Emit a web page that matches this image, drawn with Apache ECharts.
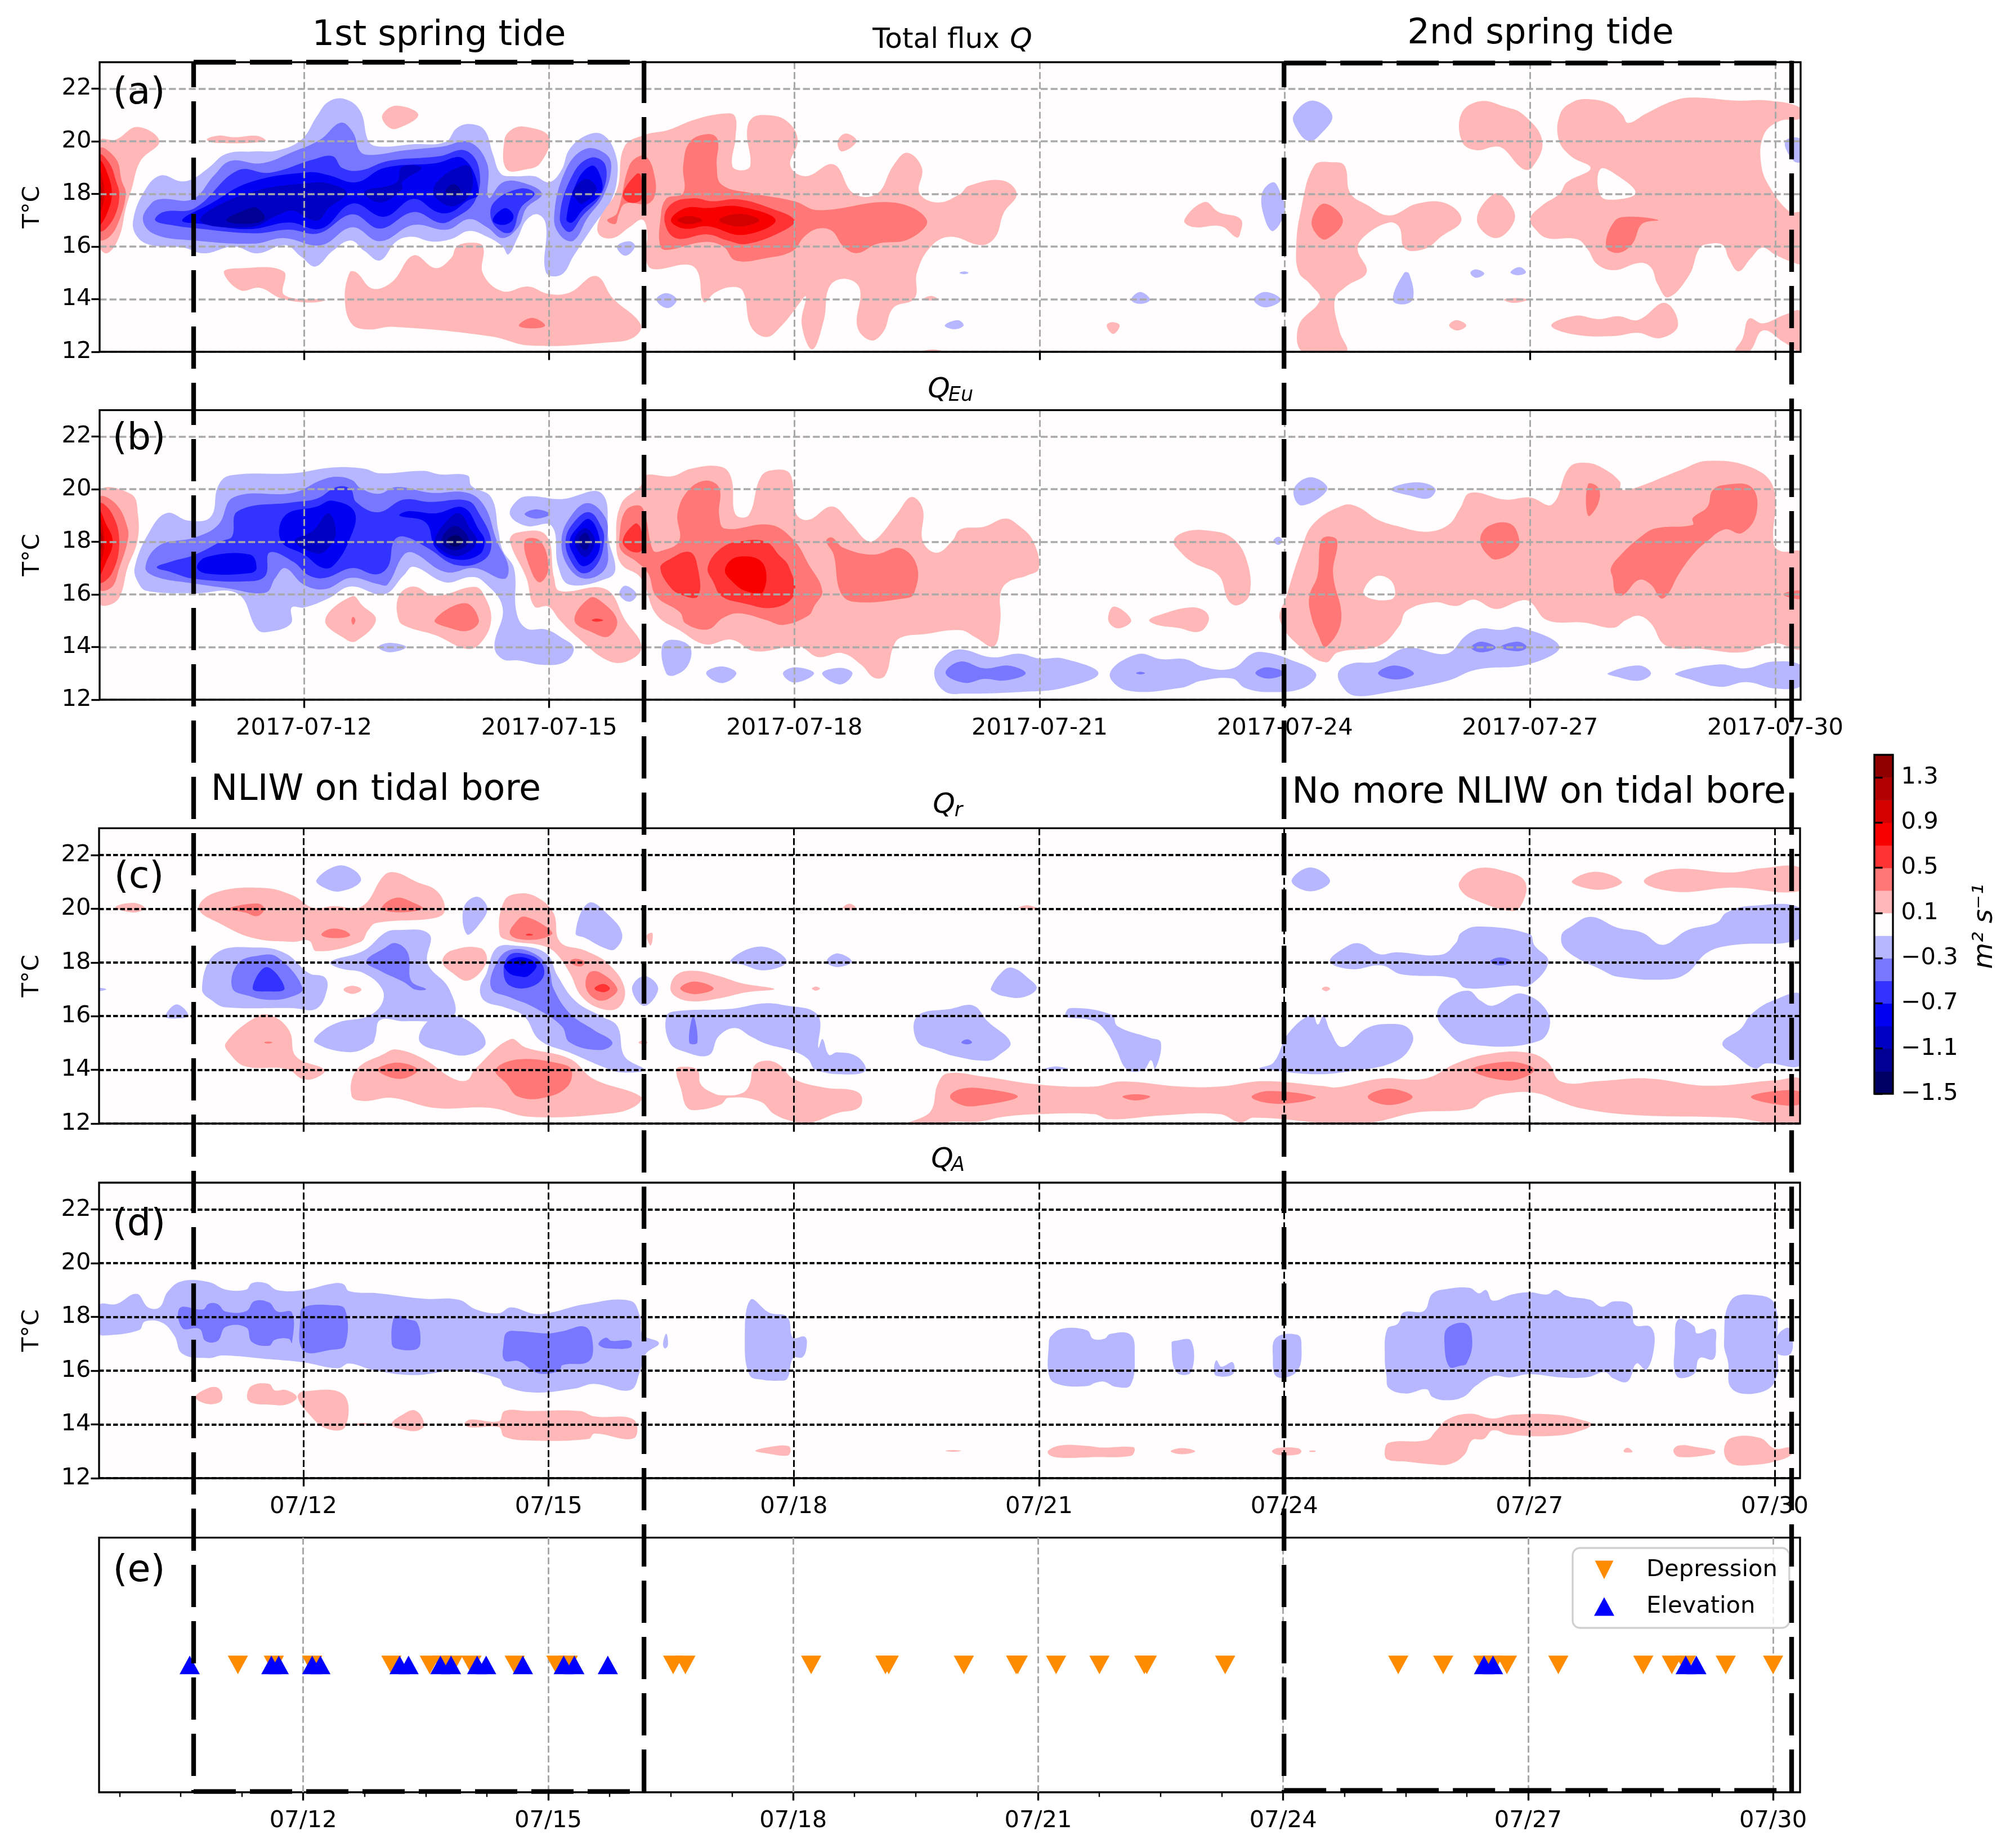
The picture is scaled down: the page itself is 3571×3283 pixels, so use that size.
<!DOCTYPE html>
<html><head><meta charset="utf-8"><style>html,body{margin:0;padding:0;background:#fff}#c{width:3571px;height:3283px}</style>
<script src="https://cdn.jsdelivr.net/npm/echarts@6/dist/echarts.min.js"></script></head>
<body><div id="c"></div><script>
// ---- axis values
const dateTicks=[12,15,18,21,24,27,30];
const minorTicks=[9.75,10.5,11.25,12.75,13.5,14.25,15.75,16.5,17.25,18.75,19.5,20.25,21.75,22.5,23.25,24.75,25.5,26.25,27.75,28.5,29.25];
const tempTicks=[12,14,16,18,20,22];
const cbarTicks=[-1.5,-1.1,-0.7,-0.3,0.1,0.5,0.9,1.3];
const cbarBins=[-1.4,-1.2,-1.0,-0.8,-0.6,-0.4,-0.2,0,0.2,0.4,0.6,0.8,1.0,1.2,1.4];
const binColors=['#000064','#000094','#0000c3','#0000f3','#3333ff','#7777ff','#b7b7ff','#fffdfd','#ffb7b7','#ff7777','#ff3333','#f70000','#d40000','#b20000','#900000'];
// ---- spring tide windows (day of July)
const springTides=[[10.65,16.16],[23.99,30.2]];
// ---- wave events (day of July)
const depressionTimes=[11.2,11.64,12.11,13.08,13.55,13.7,13.83,14.06,14.59,15.1,15.24,16.53,16.68,18.22,19.13,19.17,20.09,20.73,20.75,21.22,21.75,22.3,22.33,23.29,25.41,25.96,26.45,26.57,26.74,27.37,28.41,28.76,28.93,29.42,30.0];
const elevationTimes=[10.61,11.61,11.7,12.11,12.21,13.18,13.29,13.68,13.81,14.13,14.24,14.69,15.19,15.32,15.73,26.46,26.57,28.93,29.06];
// ---- contour regions [flux bin, [day,temp, day,temp, ...]]
const contoursA=[
[0.2,[9.5,20,9.7,20.06,9.96,20.54,10.23,20,10,19.25,9.89,18.17,9.82,17.45,9.74,16.37,9.6,15.75,9.5,16]],
[0.4,[9.5,19.7,9.7,19.33,9.77,18.5,9.82,18,9.74,17,9.62,16.37,9.5,16.28]],
[0.6,[9.5,19.47,9.62,19.16,9.7,18.5,9.74,18,9.7,17.27,9.58,16.68,9.5,16.6]],
[0.8,[9.5,19.25,9.58,18.9,9.65,18,9.58,17.18,9.5,16.86]],
[1.0,[9.5,18.9,9.56,18,9.5,17.27]],
[1.2,[9.5,18.44,9.53,18,9.5,17.63]],
[-0.2,[9.91,17,10.06,18.17,10.25,18.7,10.49,18.48,10.64,18.57,10.83,18.98,11.05,19.52,11.39,19.61,11.68,19.65,11.97,20.06,12.16,20.96,12.3,21.5,12.5,21.6,12.69,21.14,12.79,20,12.91,19.8,13.32,19.88,13.73,19.97,13.87,20.5,14.04,20.65,14.21,20.42,14.31,19.52,14.41,18.76,14.58,18.67,14.82,18.67,15,18.44,15.15,18.9,15.25,19.7,15.47,20.24,15.66,20.24,15.81,19.52,15.83,18.53,15.74,17.63,15.59,17,15.47,16.46,15.3,15.65,15.15,14.93,14.96,15.02,14.96,16.82,14.86,17.22,14.72,17,14.62,16.37,14.5,15.7,14.43,16,14.24,16.37,14.02,16.59,13.8,16.28,13.56,16.19,13.32,16.37,13.13,16.19,12.93,15.47,12.74,15.83,12.57,16.23,12.35,15.83,12.14,15.24,11.97,15.6,11.77,16.05,11.43,15.74,11.14,16,10.78,15.74,10.52,15.96,10.13,16.05,9.96,16.37]],
[-0.4,[10.03,17,10.13,17.63,10.25,17.8,10.64,17.8,10.9,18.7,11.1,19.25,11.48,19.16,11.87,19.6,12.2,20.06,12.45,20.7,12.6,20.33,12.69,19.6,12.84,19.48,13.22,19.65,13.7,19.8,14.02,19.97,14.24,19.16,14.26,17.85,14.43,18.43,14.67,18.43,14.91,18,14.72,17.45,14.62,16.73,14.43,16.32,14.24,16.73,14.02,17.04,13.75,16.64,13.34,16.82,12.93,16.2,12.59,16.73,12.21,16.05,11.75,16.32,11.39,16.11,10.66,16.23,10.18,16.46]],
[-0.4,[15.06,17.09,15.2,18.89,15.44,19.7,15.69,19.52,15.76,19,15.66,17.9,15.47,17.09,15.3,16.23,15.15,16.37]],
[-0.6,[10.18,17,10.28,17.31,10.66,17.45,11.19,18.89,11.58,18.8,12.11,19.3,12.35,19.43,12.47,18.98,12.69,18.89,13.03,19.25,13.66,19.43,13.97,19.65,14.14,18.98,14.09,17.72,13.8,17,13.66,16.9,13.34,17.31,12.93,16.68,12.59,17.22,12.18,16.5,11.82,16.64,11.39,16.5,10.71,16.68,10.37,16.82]],
[-0.6,[14.29,17.05,14.33,17.7,14.65,18.2,14.82,18,14.65,17.45,14.55,16.59,14.43,16.55]],
[-0.6,[15.13,17.09,15.3,18.8,15.52,19.38,15.69,19.07,15.64,17.99,15.4,17.13,15.25,16.55]],
[-0.8,[10.51,17,10.86,17.63,11.34,18.44,12.06,18.82,12.3,18.71,12.64,18.44,12.98,18.98,13.61,19.16,13.95,19.34,14.14,18.03,13.99,17.72,13.8,17.31,13.63,17.31,13.34,17.81,12.98,17.13,12.59,17.63,12.21,16.68,11.82,16.91,11.34,16.66,10.76,16.86]],
[-0.8,[14.31,17,14.45,17.45,14.55,17.27,14.55,17,14.43,16.82]],
[-0.8,[15.21,17.04,15.35,18.53,15.52,19.07,15.61,18.8,15.64,18.08,15.4,17.36,15.28,16.91]],
[-1.0,[10.73,17,11.29,18,12.11,18.43,12.35,18.35,12.52,18.03,12.3,17.45,12.18,17,12.06,17.05,11.87,17.36,11.7,17.22,11.34,16.73]],
[-1.0,[12.74,18.08,13.13,18.43,13.2,19.03,13.44,18.98,13.2,18.45,13.2,18.17,12.93,17.67]],
[-1.0,[13.58,18.08,13.68,18.62,13.95,19.07,14.04,18.98,14.04,18.03,13.83,17.54,13.66,17.72]],
[-1.0,[15.28,18.04,15.45,18.57,15.58,18.17,15.4,17.63,15.33,17.8]],
[-1.2,[11.05,17,11.34,17.45,11.43,17.45,11.52,17.05,11.31,16.86]],
[-1.2,[13.73,18.08,13.83,18.37,13.92,18.08,13.83,17.9]],
[0.2,[12.96,21,13.13,21.35,13.4,21,13.13,20.47,13.01,20.6]],
[0.2,[10.81,20.06,10.95,20.21,11.14,20.15,11.43,20.2,11.53,20,10.95,19.93]],
[0.2,[14.45,20,14.53,20.42,14.7,20.55,15,20.15,14.89,19.16,14.72,18.93,14.48,18.93]],
[0.2,[11.02,15.02,11.19,15.17,11.75,15.06,11.76,14.16,12.26,13.98,12.06,13.87,11.72,14.03,11.46,14.43,11.22,14.34]],
[0.2,[12.5,13.98,12.56,15.02,12.64,15.02,12.84,14.4,13.08,14.66,13.34,15.66,13.61,15.18,13.8,15.56,13.87,16,14.04,16.14,14.19,16,14.19,14.97,14.43,14.3,14.74,14.48,14.99,14.2,15.25,14.25,15.57,14.88,15.78,14.03,16.12,13.04,16.03,12.54,15.73,12.36,14.77,12.24,14.28,12.59,13.08,12.95,12.79,12.85,12.59,13.04]],
[0.4,[14.63,13,14.79,13.29,14.95,13,14.79,12.89]],
[0.2,[15.61,17,15.83,18.17,15.92,19.79,16.17,20.24,16.45,20.42,16.78,20.82,17.13,21.05,17.27,20.96,17.28,20.15,17.24,19.07,17.35,18.89,17.46,19.07,17.42,20.33,17.48,20.87,17.66,20.99,17.9,20.78,18.04,20.06,17.95,19.07,18.14,18.67,18.48,19.12,18.72,18.03,19.01,18,19.21,19.07,19.38,19.56,19.56,18.98,19.53,18.03,19.76,17.67,20.03,18,20.13,18.3,20.54,18.51,20.72,18,20.56,17.27,20.46,16.37,20.29,16.05,19.91,16.37,19.67,16,19.5,15.02,19.47,14.03,19.21,13.67,19.09,12.77,18.94,12.43,18.77,12.95,18.8,14.39,18.63,14.77,18.43,14.48,18.36,13.2,18.22,12.09,18.09,13.04,18.14,14.1,18.04,13.76,18,13.58,17.83,12.95,17.66,12.56,17.47,12.95,17.37,14.3,17.23,14.46,17.03,14.25,16.89,13.89,16.82,15.02,16.7,15.31,16.26,15.15,16.18,15.6,16.2,16.5,16.14,17.02,15.98,16.73,15.78,16.32,15.61,16.46]],
[0.4,[15.71,17,15.83,17.27,15.98,19.07,16.12,19.45,16.21,19.34,16.28,18.8,16.3,18.03,16.21,17.63,15.93,17.63,15.85,17.22,15.81,16.86]],
[0.4,[16.36,17,16.43,17.81,16.64,18.03,16.64,19.07,16.72,19.97,16.94,20.27,17.06,20.06,17.05,19.07,17.11,18.35,17.47,18.03,18,17.72,18.29,17.38,19.21,17.67,19.62,17,19.4,16.28,19.01,16.1,18.77,15.75,18.6,16,18.46,16.59,18.29,16.68,18.12,16.37,17.98,15.83,17.66,15.56,17.28,15.47,17.13,16,16.89,16.17,16.45,15.87,16.36,16]],
[0.6,[15.9,17.99,16.07,18.76,16.12,18.71,16.13,17.81,15.98,17.67]],
[0.6,[16.41,17,16.5,17.63,16.77,17.83,16.99,17.72,17.32,17.79,17.71,17.45,18,17,17.86,16.59,17.42,16.1,17.18,16.23,16.94,16.46,16.55,16.32]],
[0.8,[16.49,17,16.67,17.46,16.94,17.46,17.32,17.52,17.77,17,17.37,16.44,16.94,16.77,16.65,16.68]],
[1.0,[16.57,17,16.7,17.16,16.87,17,16.7,16.85]],
[1.0,[17.08,17,17.33,17.24,17.57,17,17.33,16.76]],
[-0.2,[15.83,16,15.98,16.2,16.05,16,15.93,15.65]],
[-0.2,[16.31,13.98,16.43,14.23,16.56,13.98,16.45,13.66]],
[-0.2,[20.02,15,20.08,15.05,20.13,15,20.08,14.95]],
[-0.2,[22.12,13.98,22.23,14.27,22.35,13.98,22.23,13.82]],
[-0.2,[19.84,13,20,13.2,20.07,13,19.96,12.86]],
[0.2,[19.57,13.98,19.67,14.12,19.76,13.98]],
[0.2,[19.55,12,19.69,12.09,19.84,12]],
[0.2,[21.82,13,21.89,13.13,21.98,13,21.9,12.68]],
[0.2,[22.77,17,23.02,17.69,23.19,17.31,23.46,17.04,23.45,16.46,23.41,16.34,23.22,16.77,22.88,16.74]],
[0.2,[18.53,20,18.63,20.29,18.76,20,18.58,19.61]],
[-0.2,[23.72,18,23.86,18.44,23.95,18,24,17.36,23.86,16.59,23.76,17]],
[-0.2,[24.11,21,24.34,21.54,24.58,20.98,24.43,20.24,24.29,20,24.14,20.5]],
[0.2,[24.14,16,24.19,17.27,24.36,19.07,24.58,19.2,24.73,19.07,24.8,18.03,25,17.59,25.28,17.18,25.62,17.63,25.98,17.63,26.16,17,25.91,16.37,25.72,15.92,25.47,15.92,25.4,16.73,25.28,16.91,25,16.46,24.89,15.92,25,15.02,24.75,14.48,24.61,13.98,24.67,12.77,24.75,12,24.22,12,24.17,13,24.43,13.98,24.31,14.57,24.17,15.02]],
[0.4,[24.33,17,24.48,17.63,24.71,17,24.51,16.28,24.39,16.46]],
[0.2,[26.16,21.05,26.39,21.52,26.68,21.32,26.92,21,27.15,20,27.02,18.98,26.9,18.97,26.68,19.7,26.58,19.8,26.34,19.66,26.17,19.97]],
[0.2,[26.35,17,26.56,18,26.73,17.72,26.81,17,26.58,16.32]],
[0.2,[27,17.05,27.14,17.54,27.36,18,27.45,18.44,27.74,18.97,27.5,19.43,27.35,20.06,27.37,21.05,27.53,21.5,27.74,21.59,27.98,21.41,28.13,21,28.2,20.69,28.42,21.05,28.76,21.54,29,21.66,29.53,21.54,29.92,21.54,30.31,21.27,30.31,20.87,30.06,20.77,29.86,20.24,29.83,19.07,29.95,18.17,30.18,17.31,30.31,17.27,30.31,15.37,30.2,15.42,30,15.69,29.84,15.96,29.7,15.55,29.55,15.06,29.43,15.56,29.36,16.05,29.19,16.1,29.07,15.92,28.95,14.93,28.69,14.07,28.56,14.57,28.48,15.2,28.34,15.38,28.03,15.1,27.82,15.33,27.7,15.92,27.57,16.28,27.21,16.32,27.07,16.64]],
[0,[27.86,18.94,28.08,18.67,28.29,18.03,28.03,17.78,27.86,17.94]],
[0.4,[27.93,16,28.03,16.95,28.2,17.13,28.57,17,28.37,16.86,28.25,16.1,28.08,15.76]],
[-0.2,[30.12,20,30.31,20.08,30.31,19.22,30.21,19.29]],
[0.2,[27.26,13,27.55,13.37,27.84,13.24,28.08,13.35,28.32,13.21,28.65,13.86,28.81,13,28.59,12.52,28.32,12.72,28.03,12.6,27.55,12.65]],
[0.2,[29.51,12,29.6,12.5,29.68,13.26,29.85,13.08,30.11,13.4,30.31,13.53,30.31,12.05,30.11,12.36,29.85,12.81,29.68,12]],
[-0.2,[23.62,13.98,23.76,14.27,23.95,13.98,23.76,13.69]],
[0.2,[26.01,13,26.1,13.2,26.22,13,26.11,12.81]],
[-0.2,[25.32,13.98,25.46,15,25.52,14.97,25.57,14.03,25.45,13.8]],
[-0.2,[26.27,15,26.34,15.13,26.44,14.97,26.34,14.81]],
[-0.2,[26.76,15.02,26.87,15.22,26.95,15.02,26.85,14.91]],
[0.2,[26.68,13.98,26.83,14.04,26.97,13.98,26.8,13.86]]
];
const contoursB=[
[0.2,[9.5,19.89,9.89,19.8,9.97,19,9.96,18,9.84,17,9.75,15.94,9.63,15.61,9.5,15.67]],
[0.4,[9.5,19.67,9.7,19.43,9.84,18.55,9.84,18,9.74,17,9.65,16.28,9.5,16.21]],
[0.6,[9.5,19.43,9.65,19.08,9.74,18,9.65,16.8,9.5,16.48]],
[0.8,[9.5,19.16,9.57,18.73,9.66,18,9.57,17.16,9.5,16.76]],
[1.0,[9.5,18.95,9.56,18,9.5,17.1]],
[1.2,[9.5,18.5,9.54,18,9.5,17.6]],
[-0.2,[9.93,17.03,10.11,18.38,10.32,19.09,10.59,18.8,10.86,18.95,10.95,20.12,11.1,20.52,11.87,20.6,12.35,20.82,12.73,20.78,12.93,20.6,13.46,20.69,13.66,20.56,14,20.52,14.05,20.12,14.29,19.69,14.38,18.38,14.43,17.68,14.57,16.98,14.6,15.32,14.72,14.71,14.96,14.67,15.15,14.36,15.3,13.97,15.2,13.45,14.94,13.32,14.62,13.49,14.43,13.54,14.33,14.02,14.43,15.5,14.19,16.5,14.04,16.66,13.73,16.46,13.34,17.05,13.22,16.72,12.98,16,12.57,16.3,12.3,15.85,12,15.5,11.85,15.5,11.84,14.89,11.58,14.58,11.43,14.67,11.19,16.02,10.66,16.04,10.08,16.13,9.97,16.46]],
[-0.4,[10.06,17.03,10.23,17.86,10.66,18.16,10.95,18.64,11.14,19.69,11.87,19.86,12.21,20.34,12.4,20.47,12.59,20.34,12.69,20.04,12.91,19.82,13.13,20.08,13.56,19.86,14,19.86,14.21,19.34,14.36,18.03,14.5,17.07,14.45,16.59,14.09,17,13.73,16.85,13.34,17.58,13.22,17.5,13.02,16.37,12.91,16.39,12.57,16.63,12.26,16.2,12,16.37,11.77,17,11.65,16.63,11.53,16.07,11.05,16.24,10.64,16.42,10.18,16.68]],
[-0.6,[10.2,17.03,10.37,17.24,10.66,17.5,11,18.03,11.12,18.2,11.19,19.16,11.87,19.5,12.16,19.64,12.4,20.08,12.57,20,12.64,19.5,12.91,19.12,13.22,19.6,13.54,19.51,14,19.56,14.14,19.08,14.29,18.03,14.21,17.33,13.87,17.11,13.51,17.77,13.22,18.2,13.1,18.03,13.03,17.07,12.88,16.76,12.59,17,12.26,16.63,12.06,16.72,11.87,17.24,11.58,17.59,11.53,16.72,11.34,16.5,10.66,16.59,10.37,16.85]],
[-0.8,[10.69,17.03,10.81,17.42,11.34,17.51,11.42,17,11.34,16.81,10.81,16.79]],
[-0.8,[11.72,18.03,11.77,19,12.16,19.34,12.35,19.56,12.62,19.12,12.55,18.03,12.35,17.07,12.21,17.03,12.01,17.5]],
[-0.8,[13.17,18.99,13.27,19.16,13.61,19.08,13.95,19.3,14.14,18.46,14.21,18.03,14.14,17.5,13.85,17.33,13.61,17.77,13.49,18.73]],
[-1.0,[11.89,18.03,12.11,18.42,12.3,19.08,12.39,18.38,12.3,17.77,12.16,17.55]],
[-1.0,[13.6,18.03,13.73,18.73,13.9,19.08,14.04,18.46,14.12,18.03,14,17.59,13.85,17.46,13.68,17.7]],
[-1.2,[13.68,18.03,13.85,18.6,14.02,18.03,13.85,17.68]],
[-1.4,[13.75,18.03,13.85,18.25,13.95,18.03,13.85,17.81]],
[-0.2,[14.52,19.03,14.62,19.6,14.77,19.73,15.15,19.62,15.64,19.84,15.73,18.03,15.81,16.98,15.73,16.63,15.25,16.37,15.11,17.07,15.03,18.6,14.72,18.6]],
[-0.4,[14.7,19.05,14.84,19.23,15.01,19.05,14.84,18.88]],
[-0.4,[15.15,18.03,15.25,18.9,15.47,19.47,15.69,18.9,15.71,18.03,15.69,17,15.44,16.6,15.23,17.07]],
[-0.6,[15.2,18.03,15.3,18.73,15.49,19.12,15.64,18.55,15.67,18.03,15.59,17.16,15.42,16.8,15.27,17.24]],
[-0.8,[15.25,18.03,15.35,18.55,15.49,18.86,15.61,18.2,15.59,17.5,15.42,17.07,15.3,17.5]],
[-1.0,[15.31,18.03,15.44,18.51,15.56,18.03,15.44,17.42]],
[-1.2,[15.36,18.03,15.44,18.34,15.5,18.03,15.44,17.68]],
[0.2,[14.52,18.03,14.6,18.34,14.96,18.25,15.06,16.63,15.13,16.13,15.69,16.2,15.93,15.02,16.13,14.02,15.98,13.49,15.73,13.47,15.35,14.36,15.13,15.02,14.99,15.54,14.82,15.54,14.72,16.63]],
[0.4,[14.7,18.03,14.89,18.03,14.99,17,14.89,16.46,14.79,16.81]],
[0.4,[15.31,15.02,15.5,15.87,15.64,15.72,15.83,15.02,15.73,14.41,15.54,14.54]],
[0.6,[15.52,15.02,15.58,15.08,15.66,15.02,15.58,14.96]],
[0.2,[12.26,15.02,12.59,15.93,12.71,15.59,12.88,15.02,12.64,14.23,12.52,14.28]],
[0.4,[12.58,15.02,12.6,15.15,12.63,15.02,12.6,14.85]],
[0.2,[13.16,15.02,13.16,15.94,13.34,16.3,13.61,15.95,14.09,16.29,14.21,15.93,14.29,15.02,14.16,14.15,13.99,13.93,13.61,14.45,13.27,14.76]],
[0.4,[13.6,15.02,13.97,15.67,14.14,15.02,14.02,14.63,13.8,14.71]],
[-0.2,[12.91,14,13.05,14.16,13.25,14,13.05,13.8]],
[-0.2,[15.86,16,15.93,16.33,16.07,16,15.98,15.72]],
[0.2,[15.82,18.03,15.88,19.43,16.12,20.12,16.17,20.52,16.5,20.49,16.74,20.78,17.11,20.84,17.23,20.39,17.28,19.04,17.44,19.01,17.59,20.47,17.76,20.73,17.95,20.56,18.02,19.08,18.17,18.83,18.46,19.34,18.68,18.73,18.89,18.03,19.01,18.12,19.26,19.08,19.43,19.7,19.57,19.25,19.57,18.03,19.74,17.58,19.93,18.03,20.03,18.47,20.32,18.57,20.58,18.88,20.75,18.6,20.92,18.03,20.99,16.98,20.85,16.72,20.61,16.46,20.52,16.02,20.52,15.02,20.44,14.02,20.22,14.36,20.03,14.64,19.59,14.49,19.3,14.36,19.21,14.02,19.11,12.92,18.97,12.84,18.82,13.32,18.58,13.77,18.29,13.62,18.05,14.02,17.52,13.84,17.23,14.28,16.91,14.1,16.6,14.63,16.31,15.24,16.12,16.63,15.88,17.16]],
[0.4,[15.86,18.2,15.93,19.16,16.1,19.38,16.17,19.08,16.27,17.68,16.36,17.64,16.59,18.03,16.57,19.08,16.7,19.95,16.91,20.32,17.08,20.04,17.08,19,17.15,18.5,17.71,18.64,18,18.03,18.17,17.16,18.34,16.15,18.24,15.54,18.17,15.19,17.86,14.84,17.66,15.02,17.32,15.28,17.13,15.11,16.94,14.67,16.67,14.89,16.6,15.32,16.31,15.93,16.21,16.8,16.07,17.24,15.88,17.68]],
[0.6,[15.9,18.03,16.05,18.69,16.12,18.51,16.13,17.68,16,17.64]],
[0.6,[16.36,17,16.45,17.29,16.72,17.61,16.82,16.98,16.82,15.93,16.62,15.98,16.48,16.28]],
[0.6,[16.94,17.03,17.11,17.77,17.37,18.03,17.66,17.99,17.81,17.5,17.93,17.07,18,16.02,17.76,15.5,17.37,15.67,17.11,15.93,17.01,16.46]],
[0.8,[17.15,16.94,17.3,17.42,17.61,17.2,17.62,16.11,17.42,16.11,17.25,16.46]],
[0.4,[18.39,18.03,18.46,18.16,18.6,17.77,18.97,17.51,19.3,17.75,19.5,17.07,19.46,16.02,19.35,15.85,18.72,15.72,18.56,16.11,18.48,17.51]],
[-0.2,[16.38,14.02,16.5,14.28,16.72,14.02,16.7,13.32,16.53,12.92,16.43,13.01]],
[-0.2,[16.92,13.01,17.11,13.26,17.29,13,17.11,12.63]],
[-0.2,[17.86,13,18.01,13.23,18.24,13,18,12.65]],
[-0.2,[18.34,13,18.56,13.21,18.71,13,18.56,12.58]],
[-0.2,[19.71,13.01,19.84,13.67,20.03,13.91,20.42,13.61,20.75,13.75,21,13.56,21.29,13.56,21.72,13,21.29,12.45,20.8,12.3,20.08,12.23,19.84,12.31]],
[-0.4,[19.85,13.01,20.03,13.45,20.32,13.19,20.63,13.29,20.83,13,20.58,12.73,20.32,12.79,20.08,12.64]],
[-0.2,[21.86,13,22.2,13.73,22.49,13.54,22.78,13.54,23.02,13.23,23.36,13.19,23.6,13.75,23.75,13.8,24.05,13.54,24.38,13,24.23,12.45,23.81,12.29,23.51,12.45,23.36,12.8,22.98,12.72,22.73,12.45,22.06,12.36]],
[-0.4,[22.18,13.01,22.23,13.06,22.29,13.01,22.23,12.96]],
[-0.4,[23.64,13.01,23.78,13.23,24,13.01,23.8,12.8]],
[0.2,[21.84,15.02,21.91,15.54,22.12,15.02,21.96,14.71]],
[0.2,[22.34,15.02,22.49,15.24,22.83,15.5,23.02,15.37,23.07,15.02,22.95,14.58,22.69,14.73,22.44,14.84]],
[0.2,[22.64,18.03,22.78,18.38,23.07,18.42,23.35,18.16,23.53,17.33,23.57,16.02,23.43,15.59,23.31,15.76,23.19,16.72,22.88,17.2,22.73,17.59]],
[-0.2,[23.86,18.03,23.92,18.19,23.97,18.03,23.92,17.88]],
[-0.2,[24.11,20,24.32,20.45,24.52,20,24.2,19.38]],
[-0.2,[25.3,20,25.61,20.26,25.84,20.02,25.76,19.65,25.52,19.76]],
[0.2,[23.94,15.02,24.02,15.93,24.2,17.68,24.35,18.68,24.71,19.38,24.89,19.33,25.13,18.85,25.37,18.6,25.73,18.38,26,18.64,26.14,19.25,26.27,19.86,26.7,19.6,27,19.68,27.27,19.42,27.48,20.82,27.69,21,27.9,20.78,28.1,20.28,28.11,20,28.26,20.02,28.84,20.72,29.17,21.07,29.71,20.82,29.98,20.03,29.98,17.94,30.07,17.64,30.33,17.55,30.33,14,29.98,14.15,29.59,13.8,29.1,13.93,28.66,14.06,28.48,14.89,28.33,15.19,28.17,15.02,28.02,14.73,27.66,14.93,27.21,15.02,27,15.72,26.88,15.76,26.58,15.45,26.31,15.8,26.1,15.56,25.83,15.7,25.49,15.38,25.4,14.8,25.16,14.06,24.65,13.8,24.5,13.42,24.2,13.97]],
[0,[24.96,16.11,25.11,16.68,25.29,16.55,25.35,16.02,25.29,15.8,25.04,15.85]],
[0.4,[24.3,15.93,24.4,16.72,24.44,18.03,24.53,18.2,24.64,18.03,24.59,16.8,24.69,15.02,24.5,14,24.41,14.45,24.32,15.2]],
[0.4,[26.39,18.03,26.49,18.59,26.76,18.68,26.87,18.03,26.82,17.68,26.64,17.36,26.52,17.39]],
[0.4,[27.71,20.18,27.84,20.03,27.83,19.42,27.71,18.99]],
[0.4,[27.99,17,28.11,17.5,28.36,18.2,28.54,18.51,28.99,18.64,28.99,18.9,29.17,19.33,29.23,19.94,29.38,20.16,29.71,20.07,29.77,19.08,29.59,18.33,29.38,18.47,29.17,18.03,28.99,17.5,28.81,16.72,28.69,16.02,28.6,15.85,28.48,16.37,28.33,16.55,28.14,15.98,28.05,16.02,28.01,16.65]],
[0.4,[30.1,16,30.22,16.13,30.33,16.11,30.33,15.85,30.22,15.85]],
[-0.2,[24.65,13,24.8,13.36,25.13,13.45,25.49,13.97,25.98,13.75,26.22,14.45,26.4,14.7,26.64,14.65,26.88,14.75,27.36,14.02,27,13.36,26.34,13.14,25.98,12.71,25.25,12.27,24.89,12.14,24.74,12.36]],
[-0.4,[25.14,13,25.34,13.3,25.58,13,25.36,12.77]],
[-0.4,[26.28,13.98,26.4,14.2,26.58,13.98,26.4,13.8]],
[-0.4,[26.64,14,26.85,14.2,26.96,14,26.85,13.84]],
[-0.2,[27.95,13,28.33,13.3,28.48,13,28.33,12.72,28.06,12.87]],
[-0.2,[28.78,13,29.32,13.34,29.63,13.19,29.98,13.45,30.33,13.27,30.33,12.55,30.01,12.42,29.65,12.67,29.32,12.49,28.93,12.8]]
];
const contoursC=[
[0.2,[9.7,20.06,9.92,20.22,10.06,20.03,9.92,19.86]],
[-0.2,[9.5,17.05,9.59,17,9.5,16.94]],
[-0.2,[10.31,16,10.45,16.44,10.59,16.02,10.4,15.91]],
[0.2,[10.72,20,10.91,20.59,11.49,20.78,11.87,20.5,12.12,20.03,12.36,20.1,12.72,20.1,12.99,21.25,13.13,21.35,13.37,21.02,13.64,20.64,13.73,19.93,13.61,19.66,12.89,19.47,12.79,19.19,12.7,18.77,12.16,18.42,12.07,18.81,11.87,18.77,11.39,18.91,11,19.42]],
[0.4,[11.08,20,11.44,20.2,11.52,20,11.44,19.73,11.29,19.86]],
[0.4,[12.96,20.03,13.13,20.41,13.35,20.22,13.46,20,13.13,19.87]],
[0.4,[12.22,19.03,12.33,19.25,12.5,19.19,12.57,19,12.36,18.91]],
[-0.2,[12.16,21.07,12.41,21.6,12.62,21.44,12.7,21.02,12.45,20.65,12.26,20.78]],
[-0.2,[10.76,17.01,10.93,18.34,11.44,18.56,11.78,18.34,12.07,17.6,12.26,17.45,12.29,17.01,12.16,16.28,11.87,16.3,11.05,16.33,10.91,16.52]],
[-0.4,[11.13,17.05,11.2,17.97,11.44,18.25,11.68,18.2,11.99,17.03,11.83,16.7,11.58,16.61,11.34,16.75]],
[-0.6,[11.38,17.03,11.55,17.83,11.77,17.03,11.56,16.92]],
[0.2,[11.05,15,11.44,16,11.63,16,11.83,15.44,11.91,14.5,12.26,14,12.16,13.71,11.99,13.66,11.8,14.03,11.29,14.13,11.1,14.6]],
[0.4,[11.52,15.02,11.57,15.05,11.62,15.02,11.57,14.98]],
[0.2,[12.49,16.99,12.6,17.13,12.71,16.99,12.6,16.83]],
[-0.2,[12.33,18.02,12.74,18.44,12.99,19.09,13.13,19.21,13.54,19.05,13.52,17.97,13.78,17.03,13.83,16,13.25,15.81,12.94,15.86,12.88,15.25,12.84,14.97,12.57,14.66,12.14,15.02,12.21,15.39,12.43,15.77,12.79,16,12.96,16.47,12.96,17.03,12.74,17.6,12.45,17.78]],
[-0.4,[12.77,18.04,12.99,18.53,13.13,18.72,13.28,18.34,13.32,17.31,13.5,17.01,13.37,16.99,13.23,17.27,12.94,17.69]],
[0.2,[13.7,18.04,13.81,18.44,14.17,18.53,14.24,18.02,14.02,17.33,13.81,17.64]],
[-0.2,[13.96,20.03,14.12,20.45,14.25,20.03,14.14,19.38,14,19.05]],
[-0.2,[13.43,15.02,13.47,15.63,13.66,16,14,15.86,14.23,15.02,14,14.55,13.71,14.69]],
[0.2,[14.4,19.05,14.46,20.31,14.65,20.57,14.87,20.41,15.06,19.84,15.14,18.77,15.45,18.44,15.74,17.92,15.93,17.03,15.86,16.33,15.64,16.28,15.4,16.75,15.26,17.6,15.09,18.34,14.92,18.63,14.53,18.81]],
[0.4,[14.53,19.05,14.63,19.61,14.72,19.7,14.97,19.33,15.04,19.05,14.77,18.84]],
[0.6,[14.72,19.03,14.76,19.07,14.81,19.03,14.76,19]],
[0.4,[15.26,18.04,15.33,18.14,15.44,18.02,15.4,17.86,15.3,17.92]],
[0.4,[15.46,17.03,15.49,17.6,15.62,17.64,15.84,17.03,15.74,16.66,15.59,16.61]],
[0.6,[15.56,17.03,15.67,17.2,15.75,17.03,15.67,16.89]],
[-0.2,[14.16,17.01,14.24,17.6,14.36,18.53,14.58,18.63,14.97,18.34,15.11,17.5,15.33,16.56,15.64,16,15.84,15.63,15.93,14.5,16.17,14,15.88,13.91,15.69,14.08,15.26,14.64,14.89,15.11,14.7,16,14.46,16.33,14.22,16.56]],
[-0.4,[14.3,17.03,14.36,17.97,14.53,18.47,14.82,18.34,15,17.78,15.06,17.03,15.26,16.1,15.55,15.49,15.78,15.02,15.64,14.74,15.26,15.02,15.16,15.63,14.82,16.33,14.53,16.7]],
[-0.6,[14.45,17.6,14.51,18.25,14.68,18.34,14.89,18.06,14.94,17.5,14.77,17.08,14.53,17.13]],
[-0.8,[14.46,17.92,14.65,18.2,14.85,17.92,14.75,17.5,14.65,17.48,14.52,17.6]],
[-1.0,[14.6,18.04,14.67,18.11,14.73,18.02,14.67,17.88]],
[-0.2,[15.33,19.09,15.49,20.22,15.74,19.75,15.9,19.05,15.81,18.49,15.69,18.53,15.45,18.91]],
[0.2,[16.2,19,16.27,19.09,16.25,18.63]],
[-0.2,[16.02,17.03,16.17,17.5,16.34,17.03,16.17,16.38]],
[0.2,[12.65,14,12.99,14.6,13.13,14.76,13.47,14.41,13.81,13.71,14,13.61,14.1,14.03,14.53,15.14,14.72,14.83,15.26,14.41,15.55,13.66,16.13,13,16.05,12.63,15.74,12.37,14.77,12.25,14.29,12.58,13.61,12.58,13.08,12.96,12.74,12.84,12.59,13.02]],
[0.4,[12.91,14,13.15,14.27,13.4,14,13.18,13.66]],
[0.4,[14.35,14,14.63,14.39,15.16,14.22,15.28,14,15.23,13.38,14.94,12.96,14.63,13,14.49,13.47]],
[0.2,[16.1,15.02,16.16,15.11,16.21,15.02,16.16,14.95]],
[-0.2,[16.44,16,16.57,16.19,17.25,16.28,17.61,16.47,17.86,16.42,18.29,16.05,18.3,14.82,18.35,15.15,18.43,14.56,18.53,14.65,18.77,14.5,18.88,14,18.72,13.83,18.27,13.99,18.17,14.41,18,14.69,17.66,14.97,17.47,15.25,17.28,15.56,17.08,15.25,16.96,14.55,16.65,14.69,16.48,15.02]],
[-0.4,[16.72,15.02,16.77,16,16.82,15.02]],
[0.2,[16.49,17.03,16.57,17.55,16.79,17.69,17.08,17.5,17.37,17.22,17.76,17.01,17.42,16.89,17.08,16.66,16.77,16.55,16.57,16.7]],
[0.4,[16.61,17.03,16.78,17.29,17.02,17.03,16.79,16.82]],
[-0.2,[17.22,18.04,17.46,18.52,17.71,18.53,17.91,18.02,17.64,17.71,17.37,17.92]],
[-0.2,[18.4,18.04,18.53,18.34,18.71,18.04,18.53,17.83]],
[0.2,[18.22,17.03,18.27,17.1,18.32,17.03,18.27,16.95]],
[0.2,[18.6,20.03,18.68,20.19,18.76,20.03,18.68,19.94]],
[0.2,[20.75,20.03,20.86,20.13,21,19.98]],
[-0.2,[20.41,17.03,20.56,17.69,20.68,17.8,20.87,17.41,20.97,17.03,20.8,16.7,20.56,16.75,20.46,16.87]],
[-0.2,[19.51,16,19.93,16.28,20.2,16.39,20.37,15.81,20.65,15.02,20.51,14.55,20.37,14.34,19.98,14.5,19.74,14.74,19.51,15.06]],
[-0.4,[20.05,15.02,20.12,15.14,20.18,15.02,20.12,14.95]],
[-0.2,[21.31,16,21.38,16.3,21.89,16.05,21.96,15.63,22.35,15.2,22.49,15.02,22.42,14.03,22.37,14.36,22.28,14,22.08,14,21.94,14.79,21.84,15.35,21.67,15.82,21.33,15.96]],
[-0.2,[21.07,14.03,21.21,14.13,21.36,14.02]],
[0.2,[16.56,14,16.62,14.11,16.82,14,16.86,13.47,17.01,13.14,17.15,13.05,17.37,13.14,17.46,13.47,17.51,14.13,17.64,14.34,17.81,14.22,18,13.66,18.39,13.33,18.72,13.24,18.83,13,18.79,12.58,18.53,12.39,18.19,12.02,18,12.07,17.76,12.35,17.59,12.82,17.2,12.96,17.11,12.72,16.86,12.52,16.7,12.58,16.62,13.28]],
[0.2,[19.4,12,19.67,12.44,19.76,13.47,19.88,13.87,20.32,13.75,21,13.45,21.67,13.38,22.01,13.57,22.73,13.38,23.21,13.38,23.75,13.58,24.47,13.4,24.65,13.35,25.19,13.68,25.73,13.68,26.1,14.24,26.46,14.57,26.94,14.66,27.21,14.33,27.39,13.56,27.84,13.58,28.45,13.68,29.17,13.41,30.01,13.61,30.33,13.61,30.33,12.04,29.47,12.22,28.27,12.32,27.66,12.55,27.36,12.83,27.12,13.11,26.82,13.16,26.46,12.93,26.28,12.55,25.61,12.41,25.07,12.04,24.6,12,23.63,12.22,23.46,12.04,23.21,12.35,22.49,12.3,21.86,12.16,21.67,12.35,21,12.35,20.56,12.25,20.27,12.07,19.93,12.07,19.84,12]],
[0.4,[19.91,13,20.03,13.28,20.32,13.3,20.74,13,20.22,12.65,20.03,12.72]],
[0.4,[22.02,13,22.18,13.09,22.36,13,22.18,12.86]],
[0.4,[23.6,12.99,23.81,13.21,24.38,12.99,24.17,12.79,23.81,12.76]],
[0.4,[25.02,12.99,25.28,13.3,25.57,12.99,25.28,12.69]],
[0.4,[26.3,14,26.76,14.3,27.06,14,26.76,13.6]],
[0.4,[29.71,12.99,30.01,13.21,30.33,13.16,30.33,12.74,30.01,12.72]],
[-0.2,[24.09,21.03,24.32,21.54,24.56,21.03,24.32,20.65]],
[0.2,[26.14,20.98,26.34,21.49,26.7,21.4,26.95,20.98,26.88,20.04,26.73,19.93,26.34,20.32,26.19,20.58]],
[0.2,[27.52,21.03,27.81,21.38,28.13,21.01,27.93,20.73,27.66,20.79]],
[0.2,[28.4,21.01,28.74,21.47,29.47,21.35,29.83,21.51,30.33,21.51,30.33,20.68,29.47,20.79,28.81,20.63]],
[-0.2,[24.56,18.03,24.74,18.55,24.92,18.71,25.16,18.31,25.37,18.38,25.92,18.29,26.1,18.73,26.16,19.1,26.37,19.34,27,19.06,27.06,18.64,27.23,18.03,27,17.14,26.82,17.14,26.22,17.05,26.07,17.42,25.43,17.56,25.19,17.89,24.83,17.75]],
[-0.4,[26.52,18.04,26.64,18.19,26.78,18.04,26.64,17.89]],
[-0.2,[27.39,19.01,27.51,19.34,27.75,19.7,28.08,19.29,28.38,19.11,28.63,18.66,28.93,19.2,29.29,19.48,29.41,19.86,29.71,20.11,30.33,20,30.33,18.92,29.47,18.64,29.17,18.36,28.93,17.61,28.69,17.37,28.08,17.47,27.9,17.7,27.45,18.45]],
[-0.2,[25.87,16.06,25.98,16.63,26.25,16.95,26.4,16.58,26.55,16.39,26.91,16.84,27.24,16.02,27.12,15.08,26.22,14.96,25.98,15.46]],
[-0.2,[23.69,14.05,23.87,14.28,24.05,15.36,24.34,16.06,24.41,15.69,24.48,16.02,24.56,15.46,24.71,14.85,25.01,15.55,25.31,15.71,25.52,15.55,25.57,15.03,25.37,14.33,24.83,13.96,24.35,13.84,23.81,14]],
[0.2,[24.46,17.02,24.51,17.1,24.56,17.02,24.51,16.93]],
[-0.2,[29.36,14.99,29.59,15.55,29.71,16.06,29.98,16.58,30.33,16.76,30.33,14.24,29.89,14.24,29.76,14.05,29.53,14.52]]
];
const contoursD=[
[-0.2,[9.5,18.44,9.71,18.48,9.96,18.86,10.1,18.36,10.24,18.36,10.34,18.94,10.51,19.33,10.84,19.3,11.05,19.02,11.3,19.02,11.37,19.26,11.54,19.26,11.68,19,12,19,12.35,19.24,12.49,19.22,12.56,18.96,12.92,18.88,13.48,18.68,13.9,18.64,14.11,18.28,14.39,18.14,14.54,18.36,14.82,18.12,15.02,18.16,15.45,18.48,16,18.6,16.12,18,16.15,17.35,16.35,17.03,16.19,16.63,16.12,15.99,16,15.28,15.56,15.51,15.31,15.33,14.82,15.19,14.46,15.43,14.39,15.71,13.9,15.99,13.34,15.84,12.85,16.03,12.56,16.27,12.42,16.09,12,16.31,11.58,16.43,11.01,16.57,10.84,16.47,10.52,16.63,10.42,17.31,10.27,17.79,10.06,17.83,9.99,17.51,9.57,17.31,9.5,17.39]],
[-0.4,[10.49,18.34,10.77,18.28,10.84,18.49,10.95,18.48,11.05,18.2,11.3,18.22,11.4,18.59,11.58,18.54,11.68,18.2,11.86,18.16,11.86,17.03,11.82,17.19,11.65,17.15,11.58,16.93,11.37,17.07,11.3,17.61,11.05,17.63,10.95,17.11,10.8,17.11,10.73,17.55,10.52,17.59]],
[-0.4,[11.96,18,12,18.36,12.34,18.44,12.51,18.28,12.51,16.95,12.35,16.78,12,16.75]],
[-0.4,[13.08,17.03,13.11,18,13.2,18.03,13.27,17.92,13.39,17.79,13.43,17.03,13.37,16.79,13.13,16.83]],
[-0.4,[14.45,17.03,14.49,17.43,14.64,17.47,14.99,17.39,15.17,17.47,15.45,17.63,15.54,17.03,15.49,16.35,15.17,16.21,15.13,15.99,14.87,15.91,14.64,16.35,14.46,16.39]],
[-0.4,[15.61,17.01,15.7,17.23,15.77,17.11,16,17.11,16,16.86,15.73,16.83,15.66,16.87]],
[-0.2,[16.4,17.03,16.44,17.38,16.46,16.95,16.42,16.83]],
[-0.2,[17.4,17.03,17.47,18.64,17.7,18.16,17.92,18,17.99,17.23,18.13,17.27,18.16,17.03,18.11,16.51,17.99,16.47,17.92,15.71,17.81,15.63,17.6,15.67,17.46,15.83]],
[0.2,[10.68,15.03,10.84,15.36,10.96,15.35,11.01,15.01,10.96,14.8,10.8,14.78]],
[0.2,[11.31,15.03,11.37,15.44,11.58,15.51,11.65,15.27,11.79,15.28,11.92,15.01,11.79,14.74,11.58,14.74,11.37,14.8]],
[0.2,[11.93,15.01,12,15.23,12.49,15.11,12.51,13.9,12.28,13.85,12.07,14.38]],
[0.2,[12.6,14,12.77,14.05,12.77,13.98]],
[0.2,[13.08,14,13.2,14.34,13.37,14.52,13.48,14,13.41,13.78,13.27,13.78]],
[0.2,[13.97,14.02,14.04,14.18,14.39,14.12,14.46,14.5,14.75,14.5,15.38,14.5,15.56,14.3,16.04,14.18,16.04,13.48,15.56,13.66,15.49,13.46,14.82,13.4,14.46,13.54,14.39,13.9,14.04,13.89]],
[0.2,[17.53,13.02,17.7,13.16,17.93,13.2,17.96,13.02,17.92,12.84,17.67,12.92]],
[0.2,[19.85,13.02,19.95,13.05,20.05,13.02,19.95,12.98]],
[-0.2,[21.12,17.03,21.15,17.3,21.29,17.57,21.59,17.5,21.66,17.19,21.8,17.19,21.87,17.37,22.12,17.34,22.17,16.63,22.12,15.47,21.94,15.4,21.8,15.59,21.7,15.56,21.59,15.43,21.27,15.47,21.13,15.75]],
[-0.2,[22.62,17.03,22.66,17.11,22.86,17.11,22.86,15.95,22.68,15.95]],
[-0.2,[23.14,16.03,23.17,16.39,23.23,16.15,23.37,16.31,23.37,15.87,23.17,15.81]],
[-0.2,[23.86,16.55,23.9,17.23,24.16,17.34,24.21,17.03,24.16,15.99,23.91,15.77]],
[-0.2,[25.23,16.47,25.26,17.55,25.39,17.75,25.46,18.17,25.71,18.23,25.81,18.86,25.99,19.04,26.27,19.08,26.38,18.88,26.47,19,26.55,18.61,26.79,18.84,27,18.92,27.22,18.84,27.32,19.01,27.46,18.78,27.74,18.64,27.88,18.38,28.03,18.58,28.24,18.44,28.29,17.71,28.48,17.63,28.53,17.03,28.43,16.03,28.31,16.27,28.2,15.6,28.03,15.71,27.92,15.95,27.71,15.76,27.39,15.75,27,15.87,26.76,15.75,26.55,15.8,26.34,15.43,26.2,15.04,25.99,14.9,25.81,15.03,25.74,15.31,25.49,15.15,25.28,15.35,25.25,15.83]],
[-0.4,[25.96,17.03,26,17.6,26.23,17.74,26.3,17.03,26.23,16.27,26.16,16.19,26.02,16.15]],
[-0.2,[28.78,17.03,28.82,17.91,29.01,17.67,29.05,17.39,29.26,17.55,29.28,17.03,29.25,16.43,29.08,16.47,29.01,15.87,28.8,15.81]],
[-0.2,[29.38,17.03,29.47,18.64,29.82,18.8,30,18.48,30.03,17.03,30,15.59,29.75,15.15,29.47,15.35,29.43,16.31]],
[-0.2,[30.03,17.27,30.14,17.59,30.2,17.51,30.2,16.65,30.03,16.65]],
[0.2,[21.11,13.02,21.27,13.22,21.59,13.2,21.77,13.14,22.15,13.16,22.17,13.02,22.12,12.83,21.63,12.78,21.27,12.76,21.13,12.86]],
[0.2,[22.61,13,22.75,13.12,22.91,13,22.75,12.89]],
[0.2,[23.85,13,23.92,13.12,24.16,13.12,24.21,13,24.16,12.88,23.92,12.87]],
[0.2,[24.31,13.02,24.38,13.02,24.38,12.98,24.31,12.98]],
[0.2,[25.23,13.02,25.28,13.32,25.74,13.42,25.85,13.74,25.99,14.18,26.27,14.4,26.55,14.22,26.79,14.36,27.32,14.36,27.67,14.14,27.76,14,27.64,13.78,27.32,13.58,26.76,13.62,26.55,13.78,26.44,13.46,26.3,13.42,26.2,12.86,26.02,12.52,25.81,12.52,25.49,12.62,25.26,12.7]],
[0.2,[28.15,13.02,28.2,13.13,28.26,12.98,28.17,12.96]],
[0.2,[28.76,13.02,28.83,13.22,29.04,13.16,29.27,13.02,29.25,12.9,28.83,12.79]],
[0.2,[29.38,13.02,29.47,13.5,29.82,13.5,30,13.1,30.2,13.14,30.2,12.87,30,12.62,29.75,12.5,29.47,12.54]]
];
// ---- axis ranges
const dayMin=9.5, dayMax=30.31, tempMin=12, tempMax=23;

const FONT='DejaVu Sans', F10=41.67, LW=3.33;
const panels=[[177,110.5,514.5],[177,728.6,514.4],[176,1471.4,524.6],[176,2101,525]];
const grid=panels.map(p=>({left:p[0],top:p[1],width:3022,height:p[2],show:true,backgroundColor:'transparent',borderColor:'#000',borderWidth:LW,z:6}));
grid.push({left:176,top:2731.6,width:3022,height:452.4,show:true,backgroundColor:'#fff',borderColor:'#000',borderWidth:LW,z:0});
grid.push({left:3330,top:1341,width:33,height:602,show:true,backgroundColor:'transparent',borderColor:'#000',borderWidth:LW,z:6});

const labelFmt=[null,v=>'2017-07-'+v,null,v=>'07/'+v,v=>'07/'+v];
const xAxis=[0,1,2,3,4].map(i=>{
 const dark=i===2||i===3;
 return {type:'value',gridIndex:i,min:dayMin,max:i===4?30.33:dayMax,z:i===4?1:5,
  axisLine:{show:false},
  axisTick:{show:true,customValues:dateTicks,length:14.6,lineStyle:{width:LW,color:'#000'}},
  axisLabel:{show:!!labelFmt[i],customValues:dateTicks,formatter:labelFmt[i]||'',fontFamily:FONT,fontSize:F10,color:'#000',margin:30},
  splitLine:{show:true,lineStyle:{color:dark?'#000':'#a9a9a9',width:3,type:[12.3,5.3]}}};
});
xAxis.push({type:'value',gridIndex:5,min:0,max:1,show:false});
xAxis.push({type:'value',gridIndex:4,min:dayMin,max:30.33,position:'bottom',axisLine:{show:false},
  axisTick:{show:true,customValues:minorTicks,length:8.3,lineStyle:{width:2.4,color:'#000'}},axisLabel:{show:false},splitLine:{show:false}});
const yAxis=[0,1,2,3].map(i=>{
 const dark=i>=2;
 return {type:'value',gridIndex:i,min:tempMin,max:tempMax,z:5,name:'T°C',nameLocation:'middle',nameRotate:90,nameGap:98,
  nameTextStyle:{fontFamily:FONT,fontSize:F10,color:'#000'},
  axisLine:{show:false},
  axisTick:{show:true,customValues:tempTicks,length:14.6,lineStyle:{width:LW,color:'#000'}},
  axisLabel:{customValues:tempTicks,fontFamily:FONT,fontSize:F10,color:'#000',margin:14.6,padding:[13,0,0,0]},
  splitLine:{show:true,lineStyle:{color:dark?'#000':'#a9a9a9',width:dark?4:3.6,type:dark?[8.5,4]:[12.3,5.3]}}};
});
yAxis.push({type:'value',gridIndex:4,min:0,max:1,show:false,splitLine:{show:false}});
yAxis.push({type:'value',gridIndex:5,min:-1.5,max:1.5,position:'right',z:7,axisLine:{show:false},
  axisTick:{show:true,customValues:cbarTicks,length:14.6,lineStyle:{width:LW,color:'#000'}},
  axisLabel:{customValues:cbarTicks,formatter:v=>v.toFixed(1).replace('-','\u2212'),fontFamily:FONT,fontSize:F10,color:'#000',margin:14.6,padding:[13,0,0,0]},
  splitLine:{show:false}});

const colorOf=v=>binColors[Math.round((v+1.4)/0.2)];
function contourSeries(i,polys){
 const data=[[-1,0]].concat(polys.map((p,k)=>[k,p[0]]));
 return {type:'custom',coordinateSystem:'cartesian2d',xAxisIndex:i,yAxisIndex:i,clip:true,z:1,silent:true,animation:false,
  encode:{x:[],y:[]},data,
  renderItem(params,api){
   const k=api.value(0);
   if(k<0){const a=api.coord([dayMin,tempMax]),b=api.coord([dayMax,tempMin]);
    return {type:'rect',shape:{x:a[0],y:a[1],width:b[0]-a[0],height:b[1]-a[1]},style:{fill:binColors[7]}};}
   const f=polys[k][1],pts=[];
   for(let j=0;j<f.length;j+=2)pts.push(api.coord([f[j],f[j+1]]));
   return {type:'polygon',shape:{points:pts,smooth:0.4},style:{fill:colorOf(polys[k][0])}};
  }};
}
const series=[contoursA,contoursB,contoursC,contoursD].map((p,i)=>contourSeries(i,p));
series.push({type:'scatter',name:'Depression',xAxisIndex:4,yAxisIndex:4,symbol:'triangle',symbolRotate:180,symbolSize:[36,33],itemStyle:{color:'#ff8c00',opacity:1},z:3,silent:true,animation:false,data:depressionTimes.map(t=>[t,0.5])});
series.push({type:'scatter',name:'Elevation',xAxisIndex:4,yAxisIndex:4,symbol:'triangle',symbolSize:[36,33],itemStyle:{color:'#0000ff',opacity:1},z:4,silent:true,animation:false,data:elevationTimes.map(t=>[t,0.5])});
series.push({type:'custom',coordinateSystem:'cartesian2d',xAxisIndex:5,yAxisIndex:5,clip:true,z:1,silent:true,animation:false,encode:{x:[],y:[]},
  data:cbarBins.map(v=>[v]),
  renderItem(params,api){const v=api.value(0),a=api.coord([0,v+0.1]),b=api.coord([1,v-0.1]);
   return {type:'rect',shape:{x:a[0],y:a[1],width:b[0]-a[0],height:b[1]-a[1]+0.6},style:{fill:colorOf(v)}};}});

const T=(text,x,y,size,extra)=>({type:'text',z:50,silent:true,x,y,style:Object.assign({text,fontFamily:FONT,fontSize:size,fill:'#000',textAlign:'center',textVerticalAlign:'middle'},extra||{})});
const graphics=[
 T('1st spring tide',780,64,62.5),
 T('2nd spring tide',2737,61,62.5),
 T('Total flux',1663,72,50),
 T('Q',1814,72,50,{fontStyle:'italic'}),
 T('Q',1668,693,50,{fontStyle:'italic'}),
 T('Eu',1707,703,35,{fontStyle:'italic'}),
 T('Q',1677,1431,50,{fontStyle:'italic'}),
 T('r',1703,1441,35,{fontStyle:'italic'}),
 T('Q',1674,2061,50,{fontStyle:'italic'}),
 T('A',1702,2071,35,{fontStyle:'italic'}),
 T('NLIW on tidal bore',668,1404,63.5),
 T('No more NLIW on tidal bore',2734,1409,63.5),
 T('(a)',247,167,66.67),T('(b)',247,781,66.67),T('(c)',247,1560,66.67),T('(d)',247,2177,66.67),T('(e)',247,2792,66.67),
 Object.assign(T('m\u00b2 s\u207b\u00b9',3527,1646,48,{fontStyle:'italic'}),{rotation:Math.PI/2})
];
const chart=echarts.init(document.getElementById('c'),null,{renderer:'canvas'});
const legend={show:true,data:[{name:'Depression',icon:'path://M0,0L10,0L5,10Z'},{name:'Elevation'}],orient:'vertical',left:2794,top:2750,padding:[18,21,17,38],itemGap:23,itemWidth:36,itemHeight:33,
 backgroundColor:'rgba(255,255,255,0.8)',borderColor:'#d0d0d0',borderWidth:LW,borderRadius:13,
 textStyle:{fontFamily:FONT,fontSize:F10,color:'#000',padding:[0,0,0,52]},z:10};
chart.setOption({animation:false,backgroundColor:'#fff',textStyle:{fontFamily:FONT},grid,xAxis,yAxis,series,legend});
// dashed spring-tide frames, positioned through the axis scale
const px=t=>chart.convertToPixel({gridIndex:0},[t,23])[0];
const DL=(x1,y1,x2,y2,off)=>({type:'line',z:60,silent:true,shape:{x1,y1,x2,y2},style:{stroke:'#000',lineWidth:8.33,lineDash:[75,25],lineDashOffset:off||0,lineCap:'butt'}});
const frames=[];
[[110.5,3182.6],[112,3180.7]].forEach((ys,i)=>{
 const a=px(springTides[i][0]),b=px(springTides[i][1]);
 frames.push(DL(a,ys[0],b,ys[0]),DL(a,ys[1],b,ys[1]),DL(a,110,a,3184,30),DL(b,108,b,3184,0));
});
chart.setOption({graphic:{elements:graphics.concat(frames)}});
</script></body></html>
